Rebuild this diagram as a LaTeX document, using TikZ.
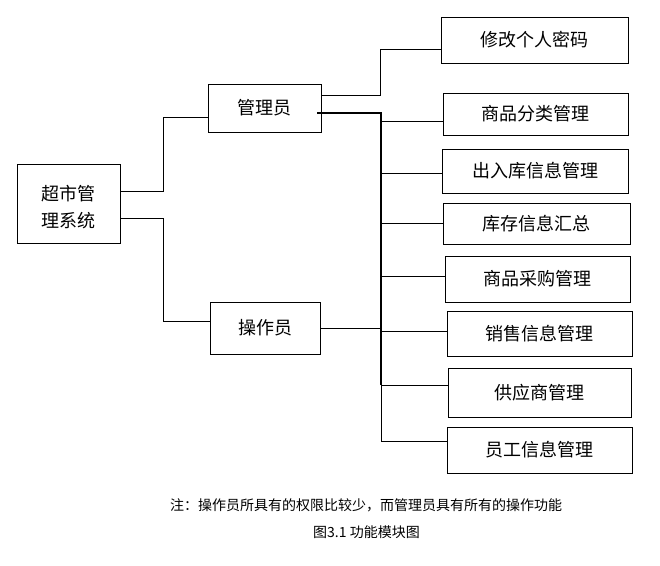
\documentclass[tikz,border=0pt]{standalone}
\usepackage{fontspec}
\newfontfamily\cjk{Noto Sans CJK SC}
\begin{document}
\begin{tikzpicture}[x=1pt,y=-1pt,
  box/.style={draw, line width=0.8pt, inner sep=0pt, font=\cjk\fontsize{18}{27}\selectfont},
  link/.style={line width=0.8pt},
  trunk/.style={line width=1.8pt},
  midtrunk/.style={line width=1.3pt},
  capt/.style={font=\cjk\fontsize{14}{16}\selectfont}]
\useasboundingbox[fill=white] (0,0) rectangle (660,565);

% left boxes
\node[box, minimum width=103pt, minimum height=79pt] (sys) at (68.5,203.5) {\raisebox{-4pt}[\height][\depth]{\parbox{54pt}{超市管\\理系统}}};
\node[box, minimum width=113pt, minimum height=48pt] (adm) at (264.5,108) {管理员};
\node[box, minimum width=110pt, minimum height=52pt] (opr) at (265,328) {操作员};

% right boxes
\node[box, minimum width=187pt, minimum height=46pt] (b1) at (534.5,40) {修改个人密码};
\node[box, minimum width=185pt, minimum height=42pt] (b2) at (535.5,114) {商品分类管理};
\node[box, minimum width=186pt, minimum height=44pt] (b3) at (535,171) {出入库信息管理};
\node[box, minimum width=187pt, minimum height=41pt] (b4) at (536.5,223.5) {库存信息汇总};
\node[box, minimum width=185pt, minimum height=46pt] (b5) at (537.5,279) {商品采购管理};
\node[box, minimum width=185pt, minimum height=45pt] (b6) at (539.5,333.5) {销售信息管理};
\node[box, minimum width=183pt, minimum height=49pt] (b7) at (539.5,392.5) {供应商管理};
\node[box, minimum width=185pt, minimum height=46pt] (b8) at (539.5,450) {员工信息管理};

% trunk coordinates
\coordinate (t3) at (381,173);
\coordinate (t7) at (381,385);
\coordinate (t8) at (381,441);

% system to roles
\draw[link] ([yshift=12.5pt]sys.east) -| ([xshift=-44pt,yshift=-9pt]adm.west) -- ([yshift=-9pt]adm.west);
\draw[link] ([yshift=-14.5pt]sys.east) -| ([xshift=-46pt,yshift=7pt]opr.west) -- ([yshift=7pt]opr.west);

% admin to password box
\draw[link] ([yshift=13pt]adm.east) -| ([xshift=-60pt,yshift=-9pt]b1.west) -- ([yshift=-9pt]b1.west);

% trunk
\draw[trunk] ([xshift=-4pt,yshift=-5pt]adm.east) -| (t3);
\draw[midtrunk] (t3) -- (t7);
\draw[link] (t7) -- (t8);

% operator to trunk
\draw[link] (opr.east) -- ++(61pt,0);

% branches
\draw[link] ([yshift=-7pt]b2.west) -- ++(-62pt,0);
\draw[link] ([yshift=-2pt]b3.west) -- ++(-61pt,0);
\draw[link] (b4.west) -- ++(-62pt,0);
\draw[link] ([yshift=3pt]b5.west) -- ++(-64pt,0);
\draw[link] ([yshift=2.5pt]b6.west) -- ++(-66pt,0);
\draw[link] ([yshift=7.5pt]b7.west) -- ++(-67pt,0);
\draw[link] ([yshift=9pt]b8.west) -- (t8);

% captions
\node[capt] (note) at (366,505) {注：操作员所具有的权限比较少，而管理员具有所有的操作功能};
\node[capt] (title) at (366.5,532) {图3.1 功能模块图};
\end{tikzpicture}
\end{document}
